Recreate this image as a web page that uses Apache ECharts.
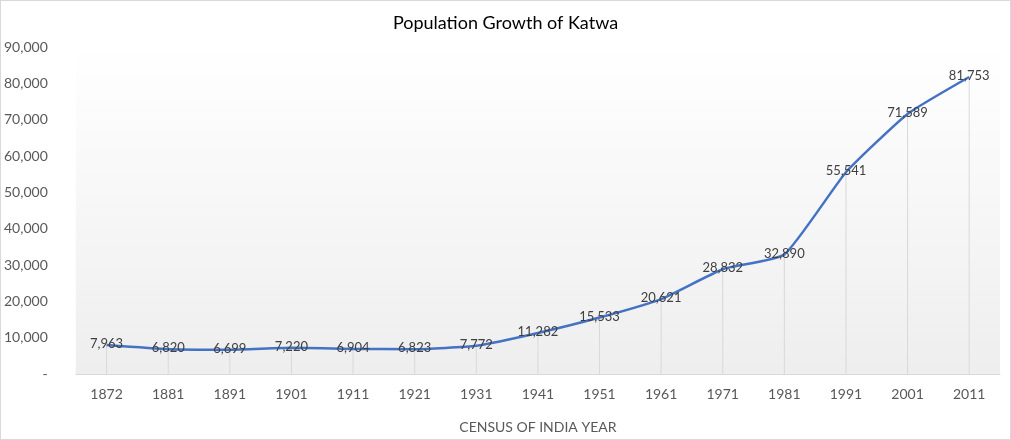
<!DOCTYPE html>
<html>
<head>
<meta charset="utf-8">
<script src="https://cdn.jsdelivr.net/npm/echarts@6/dist/echarts.min.js"></script>
<style>
html,body{margin:0;padding:0;background:#fff;}
#chart{width:1009px;height:438px;border:1px solid #d9d9d9;}
</style>
</head>
<body>
<div id="chart"></div>
<script>
var years = ['1872','1881','1891','1901','1911','1921','1931','1941','1951','1961','1971','1981','1991','2001','2011'];
var population = [7963,6820,6699,7220,6904,6823,7772,11282,15533,20621,28832,32890,55541,71589,81753];

function fmt(v){
	return String(v).replace(/\B(?=(\d{3})+(?!\d))/g, ',');
}

var chart = echarts.init(document.getElementById('chart'));
var option = {
	animation: false,
	textStyle: {fontFamily: 'Lato'},
	title: {
		text: 'Population Growth of Katwa',
		left: 'center',
		top: 8,
		textStyle: {fontFamily: 'Lato', fontSize: 18, fontWeight: 'normal', color: '#000'}
	},
	grid: {
		left: 73, right: 10, top: 46, bottom: 64,
		show: true, borderWidth: 0,
		backgroundColor: new echarts.graphic.LinearGradient(0, 0, 0, 1, [
			{offset: 0, color: '#ffffff'},
			{offset: 1, color: '#eeeeee'}
		])
	},
	xAxis: {
		type: 'category',
		data: years,
		boundaryGap: true,
		axisLine: {lineStyle: {color: '#d9d9d9', width: 1}},
		axisTick: {show: false},
		axisLabel: {color: '#595959', fontSize: 14, margin: 13},
		name: 'CENSUS OF INDIA YEAR',
		nameLocation: 'middle',
		nameGap: 46,
		nameTextStyle: {color: '#595959', fontSize: 14}
	},
	yAxis: {
		type: 'value',
		min: 0, max: 90000, interval: 10000,
		splitLine: {show: false},
		axisLine: {show: false},
		axisTick: {show: false},
		axisLabel: {
			color: '#595959', fontSize: 14, margin: 28,
			formatter: function(v){ return v === 0 ? '-' : fmt(v); }
		}
	},
	series: [
		{
			type: 'bar',
			data: population,
			barWidth: 1,
			itemStyle: {color: '#d9d9d9'},
			silent: true,
			z: 1
		},
		{
			type: 'line',
			data: population,
			smooth: 0.15,
			showSymbol: true,
			symbol: 'circle',
			symbolSize: 2,
			lineStyle: {color: '#4472C4', width: 2.5},
			itemStyle: {color: 'rgba(0,0,0,0)'},
			label: {
				show: true,
				position: 'inside',
				offset: [0, -1],
				color: '#404040',
				fontSize: 13,
				formatter: function(p){ return fmt(p.value); }
			},
			z: 3
		}
	]
};
chart.setOption(option);
</script>
</body>
</html>
